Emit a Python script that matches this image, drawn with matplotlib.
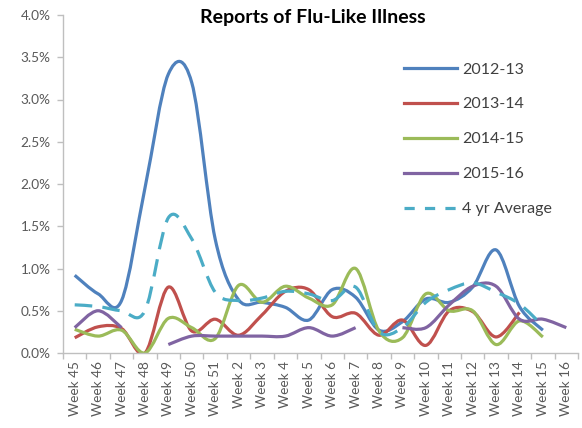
import numpy as np
import matplotlib
matplotlib.use('Agg')
import matplotlib.pyplot as plt
from matplotlib.path import Path
from matplotlib.patches import PathPatch
from matplotlib.lines import Line2D
from matplotlib.ticker import FuncFormatter, MultipleLocator

weeks = ['Week 45', 'Week 46', 'Week 47', 'Week 48', 'Week 49', 'Week 50', 'Week 51',
         'Week 2', 'Week 3', 'Week 4', 'Week 5', 'Week 6', 'Week 7', 'Week 8',
         'Week 9', 'Week 10', 'Week 11', 'Week 12', 'Week 13', 'Week 14', 'Week 15', 'Week 16']

# values in percent, None = no report
s2012 = [0.92, 0.70, 0.62, 1.95, 3.30, 3.20, 1.35, 0.63, 0.60, 0.54, 0.39, 0.75, 0.66,
         0.27, 0.37, 0.64, 0.60, 0.78, 1.22, 0.55, 0.27, None]
s2013 = [0.18, 0.31, 0.29, 0.00, 0.78, 0.26, 0.40, 0.21, 0.45, 0.73, 0.75, 0.43, 0.47,
         0.21, 0.39, 0.09, 0.50, 0.49, 0.19, 0.48, None, None]
s2014 = [0.28, 0.20, 0.27, 0.00, 0.41, 0.30, 0.17, 0.80, 0.60, 0.79, 0.65, 0.57, 1.00,
         0.26, 0.18, 0.70, 0.50, 0.50, 0.10, 0.38, 0.19, None]
s2015 = [0.30, 0.50, 0.30, None, 0.10, 0.20, 0.20, 0.20, 0.20, 0.20, 0.30, 0.20, 0.30,
         None, 0.30, 0.30, 0.57, 0.79, 0.79, 0.40, 0.40, 0.30]
avg4 = [0.57, 0.55, 0.50, 0.50, 1.60, 1.35, 0.72, 0.62, 0.65, 0.73, 0.70, 0.62, 0.78,
        0.25, 0.30, 0.60, 0.75, 0.83, 0.72, 0.58, 0.32, None]

series = [('2012-13', s2012, '#4F81BD', '-'),
          ('2013-14', s2013, '#C0504D', '-'),
          ('2014-15', s2014, '#9BBB59', '-'),
          ('2015-16', s2015, '#8064A2', '-'),
          ('4 yr Average', avg4, '#4BACC6', '--')]


def smooth_path(xs, ys):
    # Excel-style smoothed line: cubic bezier through each point
    verts = [(xs[0], ys[0])]
    codes = [Path.MOVETO]
    n = len(xs)
    for i in range(n - 1):
        p0 = np.array([xs[max(i - 1, 0)], ys[max(i - 1, 0)]])
        p1 = np.array([xs[i], ys[i]])
        p2 = np.array([xs[i + 1], ys[i + 1]])
        p3 = np.array([xs[min(i + 2, n - 1)], ys[min(i + 2, n - 1)]])
        c1 = p1 + (p2 - p0) / 6
        c2 = p2 - (p3 - p1) / 6
        verts += [tuple(c1), tuple(c2), tuple(p2)]
        codes += [Path.CURVE4] * 3
    return Path(verts, codes)


plt.rcParams['font.family'] = ['Lato', 'DejaVu Sans']
fig = plt.figure(figsize=(5.82, 4.28), dpi=100)
ax = fig.add_axes([63 / 582, 75 / 428, 515 / 582, 338 / 428])

handles = []
for name, vals, col, ls in series:
    style = (0, (5.5, 3.2)) if ls == '--' else '-'
    seg_x, seg_y = [], []
    for i, v in enumerate(vals + [None]):
        if v is None:
            if len(seg_x) > 1:
                patch = PathPatch(smooth_path(seg_x, seg_y), fill=False, edgecolor=col,
                                  lw=2.3, capstyle='butt', joinstyle='round', linestyle=style)
                ax.add_patch(patch)
            seg_x, seg_y = [], []
        else:
            seg_x.append(i)
            seg_y.append(v)
    if ls == '--':
        handles.append(Line2D([], [], color=col, lw=2.3, dashes=(3.2, 3.2)))
    else:
        handles.append(Line2D([], [], color=col, lw=2.3))

ax.set_xlim(-0.5, len(weeks) - 0.5)
ax.set_ylim(0, 4.0)
ax.yaxis.set_major_locator(MultipleLocator(0.5))
ax.yaxis.set_major_formatter(FuncFormatter(lambda v, p: f'{v:.1f}%'))
ax.set_xticks(range(len(weeks)))
ax.set_xticklabels(weeks, rotation=90)
ax.set_xticks(np.arange(-0.5, len(weeks), 1), minor=True)
ax.tick_params(axis='x', which='major', length=0, pad=6)
ax.tick_params(axis='x', which='minor', length=4, color='#BFBFBF', width=1)
ax.tick_params(axis='y', length=4, color='#BFBFBF', width=1, pad=5)
ax.tick_params(labelsize=9.8, labelcolor='#595959')
for s in ['top', 'right']:
    ax.spines[s].set_visible(False)
for s in ['left', 'bottom']:
    ax.spines[s].set_color('#BFBFBF')
    ax.spines[s].set_linewidth(1)

fig.text(313 / 582, 1 - 18 / 428, 'Reports of Flu-Like Illness', ha='center', va='center',
         fontsize=14, fontweight='bold', color='black')

leg = ax.legend(handles, [s[0] for s in series], loc='upper left',
                bbox_to_anchor=(390 / 582, 1 - 48 / 428), bbox_transform=fig.transFigure,
                frameon=False, fontsize=11.5, handlelength=3.3, handletextpad=0.3,
                labelspacing=1.3, labelcolor='#404040')

fig.savefig('out.png', dpi=100)
